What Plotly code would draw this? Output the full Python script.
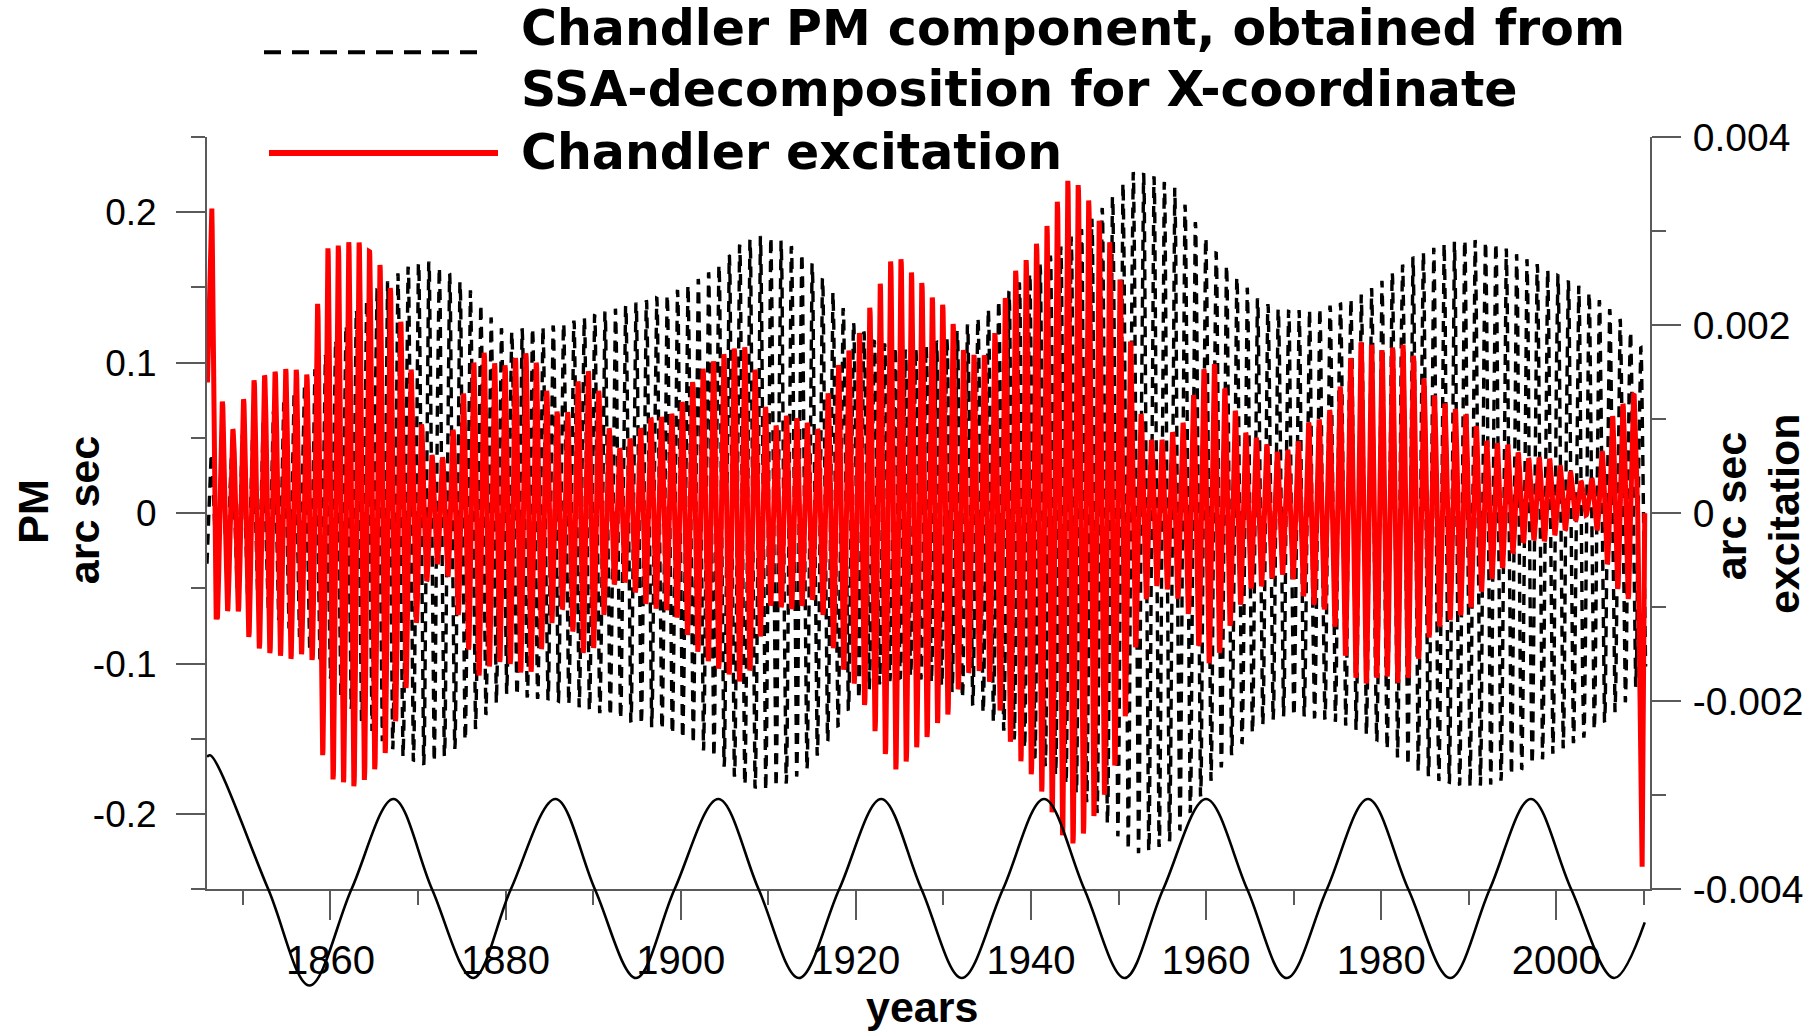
import numpy as np
import plotly.graph_objects as go

# ---------------- data ----------------
# Chandler PM component (black dashed, left axis, arc sec): envelope amplitude by year
pm_years = [1845.9, 1848, 1851, 1854, 1857, 1860, 1863, 1866, 1868.5, 1871, 1873.5, 1876,
            1878, 1880, 1883, 1886, 1889, 1892, 1895, 1898, 1901, 1904, 1907, 1909.5, 1912,
            1914.5, 1917, 1919.5, 1922, 1926, 1930, 1934, 1938, 1942, 1946, 1949, 1951.5,
            1954, 1956.5, 1958.5, 1961, 1963.5, 1966, 1968.5, 1972, 1975, 1978, 1980,
            1983.5, 1987, 1990, 1993, 1995.5, 1998, 2000.5, 2003, 2005.5, 2008, 2010.2]
pm_amp = [0.038, 0.045, 0.055, 0.070, 0.085, 0.110, 0.135, 0.152, 0.163, 0.168, 0.160, 0.148,
          0.132, 0.120, 0.123, 0.125, 0.130, 0.135, 0.140, 0.144, 0.152, 0.163, 0.180, 0.185, 0.180,
          0.170, 0.150, 0.128, 0.115, 0.108, 0.115, 0.130, 0.150, 0.170, 0.190, 0.208, 0.227,
          0.224, 0.216, 0.196, 0.174, 0.157, 0.142, 0.135, 0.135, 0.139, 0.146, 0.154,
          0.170, 0.179, 0.182, 0.180, 0.172, 0.165, 0.157, 0.150, 0.139, 0.125, 0.105]
pm_period = 1.183          # Chandler period, years
pm_first_peak = 1846.4

# Chandler excitation (red, right axis, arc sec): envelope amplitude by year
exc_years = [1846.45, 1847.0, 1847.6, 1848.9, 1850.0, 1851.2, 1853.1, 1855.5, 1857.4, 1858.1,
             1858.6, 1859.7, 1861.1, 1862.8, 1864.0, 1865.1, 1866.4, 1867.5, 1868.7, 1869.8,
             1871.0, 1872.1, 1873.3, 1874.2, 1875.2, 1876.0, 1877.1, 1878.4, 1880.1, 1881.9,
             1883.2, 1884.3, 1885.5, 1886.8, 1888.0, 1889.2, 1890.4, 1891.5, 1892.8, 1894.0,
             1895.2, 1896.4, 1897.6, 1898.8, 1900.0, 1901.1, 1902.3, 1903.5, 1904.7, 1905.8,
             1907.0, 1908.2, 1909.4, 1910.6, 1911.8, 1913.2, 1914.5, 1915.6, 1917.1, 1918.2,
             1919.5, 1920.7, 1921.9, 1923.1, 1924.3, 1925.4, 1926.7, 1927.8, 1929.1, 1930.2,
             1931.3, 1932.4, 1933.6, 1934.7, 1935.9, 1937.1, 1938.3, 1939.5, 1940.6, 1941.9,
             1943.0, 1944.2, 1945.4, 1946.7, 1947.9, 1949.0, 1950.2, 1951.4, 1952.5, 1953.8,
             1955.2, 1956.4, 1957.7, 1958.9, 1960.1, 1961.2, 1962.3, 1963.6, 1964.8, 1966.0,
             1967.1, 1968.3, 1969.3, 1970.3, 1971.5, 1972.6, 1973.8, 1975.0, 1976.2, 1977.5,
             1978.6, 1979.8, 1981.0, 1982.1, 1983.4, 1984.5, 1985.7, 1987.0, 1988.2, 1989.4,
             1990.5, 1991.8, 1993.0, 1994.3, 1995.5, 1996.9, 1998.9, 2000.0, 2001.3, 2002.5,
             2003.7, 2004.6, 2005.4, 2006.5, 2007.7, 2008.9]
exc_amp = [0.00324, 0.00112, 0.00120, 0.00088, 0.00120, 0.00141, 0.00149, 0.00155, 0.00147, 0.00160,
           0.00237, 0.00282, 0.00285, 0.00291, 0.00283, 0.00272, 0.00253, 0.00219, 0.00184, 0.00117,
           0.00072, 0.00053, 0.00064, 0.00096, 0.00128, 0.00152, 0.00176, 0.00160, 0.00157, 0.00171,
           0.00168, 0.00139, 0.00112, 0.00099, 0.00136, 0.00154, 0.00139, 0.00098, 0.00067, 0.00077,
           0.00088, 0.00101, 0.00102, 0.00104, 0.00115, 0.00136, 0.00152, 0.00160, 0.00168, 0.00173,
           0.00181, 0.00163, 0.00120, 0.00090, 0.00104, 0.00101, 0.00096, 0.00088, 0.00136, 0.00162,
           0.00176, 0.00197, 0.00226, 0.00251, 0.00274, 0.00269, 0.00251, 0.00243, 0.00224, 0.00221,
           0.00197, 0.00171, 0.00168, 0.00168, 0.00192, 0.00230, 0.00259, 0.00270, 0.00286, 0.00307,
           0.00331, 0.00354, 0.00349, 0.00331, 0.00309, 0.00288, 0.00248, 0.00181, 0.00107, 0.00077,
           0.00078, 0.00088, 0.00099, 0.00136, 0.00160, 0.00158, 0.00128, 0.00104, 0.00080, 0.00080,
           0.00072, 0.00064, 0.00067, 0.00072, 0.00096, 0.00098, 0.00104, 0.00126, 0.00160, 0.00182,
           0.00181, 0.00173, 0.00174, 0.00182, 0.00173, 0.00150, 0.00128, 0.00118, 0.00112, 0.00107,
           0.00098, 0.00078, 0.00070, 0.00064, 0.00050, 0.00043, 0.00045, 0.00037, 0.00032, 0.00020,
           0.00016, 0.00032, 0.00056, 0.00091, 0.00102, 0.00112]
exc_mid_years = [1845.9, 1992.0, 1995.5, 2008.9]
exc_mid_vals = [0.0, 0.0, 0.00015, 0.00015]
exc_peak_years = [1846.45, 1859.7, 1944.2, 2008.8]     # peaks used as phase anchors
exc_peak_cycles = [0, 11, 82, 136]
exc_head_years = [1845.95]
exc_head_vals = [0.00139]
exc_tail_years = [2009.3, 2009.8, 2010.1]
exc_tail_vals = [0.0, -0.00376, 0.0]

# 18.6-year curve along the bottom (left-axis units, arc sec)
nodal_years = [1845.9, 1846.3, 1852.9, 1857.6, 1862.4, 1867.2, 1871.6, 1876.3, 1880.6, 1885.7,
               1890.2, 1894.9, 1899.3, 1904.3, 1908.9, 1913.5, 1918.1, 1922.9, 1927.5, 1932.1,
               1936.8, 1941.5, 1946.1, 1950.7, 1955.1, 1960.0, 1964.7, 1969.2, 1973.8, 1978.5,
               1983.1, 1987.9, 1992.4, 1997.1, 2001.7, 2006.6, 2010.1]
nodal_vals = [-0.162, -0.161, -0.25, -0.314, -0.25, -0.19, -0.25, -0.309, -0.25, -0.19,
              -0.25, -0.309, -0.25, -0.19, -0.25, -0.309, -0.25, -0.19, -0.25, -0.309,
              -0.25, -0.19, -0.25, -0.309, -0.25, -0.19, -0.25, -0.309, -0.25, -0.19,
              -0.25, -0.309, -0.25, -0.19, -0.25, -0.309, -0.272]

x_tickvals = [1860, 1880, 1900, 1920, 1940, 1960, 1980, 2000]
x_ticktext = ["1860", "1880", "1900", "1920", "1940", "1960", "1980", "2000"]
x_minor = [1850, 1870, 1890, 1910, 1930, 1950, 1970, 1990, 2010]
y_tickvals = [-0.2, -0.1, 0.0, 0.1, 0.2]
y_ticktext = ["-0.2", "-0.1", "0", "0.1", "0.2"]
y_minor = [-0.25, -0.15, -0.05, 0.05, 0.15, 0.25]
y2_tickvals = [-0.004, -0.002, 0.0, 0.002, 0.004]
y2_ticktext = ["-0.004", "-0.002", "0", "0.002", "0.004"]
y2_minor = [-0.003, -0.001, 0.001, 0.003]

assert len(pm_years) == len(pm_amp)
assert len(exc_years) == len(exc_amp)
assert len(nodal_years) == len(nodal_vals)

# ---------------- series built from the envelopes ----------------
dt = 0.02
t_pm = np.arange(1845.9, 2010.2 + 1e-9, dt)
pm = np.interp(t_pm, pm_years, pm_amp) * np.cos(2 * np.pi * (t_pm - pm_first_peak) / pm_period)

t_ex = np.arange(exc_peak_years[0], 2008.9 + 1e-9, dt)
cyc = np.interp(t_ex, exc_peak_years, exc_peak_cycles)
ex = np.interp(t_ex, exc_mid_years, exc_mid_vals) + np.interp(t_ex, exc_years, exc_amp) * np.cos(2 * np.pi * cyc)
t_ex = np.concatenate([exc_head_years, t_ex, exc_tail_years])
ex = np.concatenate([exc_head_vals, ex, exc_tail_vals])

# ---------------- figure ----------------
W, H = 1818, 1032
L, R, T, B = 207, 168, 137, 32
plot_h = H - T - B
axis_bottom_px = 891
ydom0 = (H - B - axis_bottom_px) / plot_h
px_per_unit = (axis_bottom_px - T) / 0.5


def px(xp):
    return (xp - L) / (W - L - R)


def py(yp):
    return (H - B - yp) / plot_h


AX = "#5a5a5a"
fig = go.Figure()
fig.add_trace(go.Scatter(x=t_pm, y=pm, mode="lines", yaxis="y",
                         line=dict(color="black", width=3.4, dash="11px,8px"), hoverinfo="skip"))
fig.add_trace(go.Scatter(x=t_ex, y=ex, mode="lines", yaxis="y2",
                         line=dict(color="#ff0000", width=5), hoverinfo="skip"))
fig.add_trace(go.Scatter(x=nodal_years, y=nodal_vals, mode="lines", yaxis="y3",
                         line=dict(color="black", width=2.6, shape="spline", smoothing=1.0),
                         hoverinfo="skip"))

tick_common = dict(showline=True, linecolor=AX, linewidth=2, ticks="outside", ticklen=29,
                   tickwidth=2, tickcolor=AX, showgrid=False, zeroline=False)

fig.update_layout(
    width=W, height=H, autosize=False,
    margin=dict(l=L, r=R, t=T, b=B, pad=0),
    paper_bgcolor="white", plot_bgcolor="rgba(0,0,0,0)",
    showlegend=False,
    font=dict(family="Liberation Sans, Arial, sans-serif", color="black"),
    xaxis=dict(range=[1845.9, 2010.7], domain=[0, 1], anchor="y",
               tickvals=x_tickvals, ticktext=x_ticktext, ticklabelstandoff=6,
               tickfont=dict(family="Liberation Sans, Arial", size=40),
               minor=dict(tickvals=x_minor, ticks="outside", ticklen=14, tickwidth=2, tickcolor=AX),
               **tick_common),
    yaxis=dict(range=[-0.25, 0.25], domain=[ydom0, 1], anchor="x",
               tickvals=y_tickvals, ticktext=y_ticktext, tickfont=dict(size=37),
               ticklabelstandoff=12,
               minor=dict(tickvals=y_minor, ticks="outside", ticklen=14, tickwidth=2, tickcolor=AX),
               **tick_common),
    yaxis2=dict(range=[-0.004, 0.004], overlaying="y", side="right", anchor="x",
                tickvals=y2_tickvals, ticktext=y2_ticktext, tickfont=dict(size=39),
                ticklabelstandoff=4,
                minor=dict(tickvals=y2_minor, ticks="outside", ticklen=14, tickwidth=2, tickcolor=AX),
                **tick_common),
    yaxis3=dict(range=[0.25 - plot_h / px_per_unit, 0.25], domain=[0, 1], anchor="x",
                visible=False, fixedrange=True),
)

bold43 = dict(family="Liberation Sans, Arial", size=43, color="black", weight="bold")
leg_font = dict(family="DejaVu Sans", size=49, color="black", weight="bold")
annots = [
    dict(text="PM", x=px(33.5), y=py(512), textangle=-90, font=bold43),
    dict(text="arc sec", x=px(84), y=py(511), textangle=-90, font=bold43),
    dict(text="arc sec", x=px(1731), y=py(507), textangle=-90, font=bold43),
    dict(text="excitation", x=px(1784), y=py(515), textangle=-90, font=bold43),
    dict(text="years", x=px(922), y=py(1009), font=bold43),
]
for a in annots:
    a.update(xref="paper", yref="paper", showarrow=False, xanchor="center", yanchor="middle")
leg = [
    dict(text="Chandler PM component, obtained from", y=py(59), yanchor="bottom"),
    dict(text="SSA-decomposition for X-coordinate", y=py(59), yanchor="top"),
    dict(text="Chandler excitation", y=py(152.5), yanchor="middle"),
]
for a in leg:
    a.update(x=px(519), xref="paper", yref="paper", showarrow=False, xanchor="left",
             font=leg_font)
fig.update_layout(annotations=annots + leg)

fig.add_shape(type="line", xref="paper", yref="paper", x0=px(264), x1=px(487), y0=py(52), y1=py(52),
              line=dict(color="black", width=4, dash="17px,11px"))
fig.add_shape(type="line", xref="paper", yref="paper", x0=px(269), x1=px(498), y0=py(153), y1=py(153),
              line=dict(color="#ff0000", width=6))

fig.write_html("out.html", config={"displayModeBar": False},
               post_script="document.body.style.margin='0px';")
